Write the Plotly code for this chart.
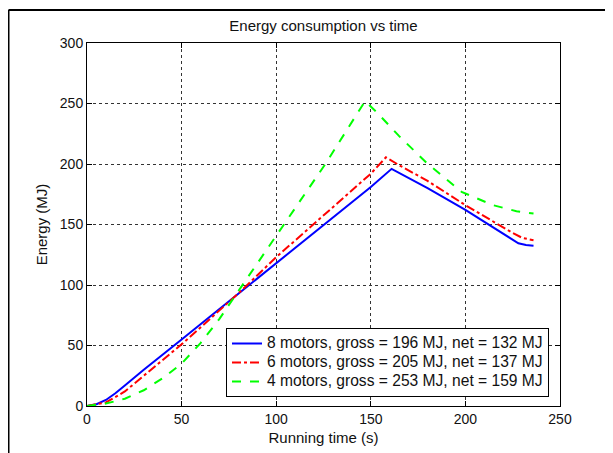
import plotly.graph_objects as go

# Running time (s) and energy (MJ)
t8 = [0, 5, 10, 15, 20, 30, 50, 100, 150, 161, 180, 200, 228, 232, 236]
e8 = [0, 1.5, 5, 10.5, 17, 30, 55, 118, 181, 196, 180, 162, 134.5, 133, 132.5]

t6 = [0, 10, 20, 30, 50, 80, 100, 150, 158, 165, 180, 200, 215, 225, 230, 236]
e6 = [0, 3, 12, 25, 51, 93, 123, 192, 205.5, 199, 186, 166, 152, 143, 139, 137]

t4 = [0, 10, 20, 30, 40, 50, 60, 70, 80, 90, 100, 126, 147, 153, 165, 179.5, 198, 214.5, 227, 236]
e4 = [0, 2, 6, 13, 23, 35, 52, 72, 95, 118, 140, 200, 252, 243, 223, 201, 177, 166, 161, 159]

names = ["8 motors, gross = 196 MJ, net = 132 MJ",
         "6 motors, gross = 205 MJ, net = 137 MJ",
         "4 motors, gross = 253 MJ, net = 159 MJ"]

x_ticks = [0, 50, 100, 150, 200, 250]
y_ticks = [0, 50, 100, 150, 200, 250, 300]

FONT = "Liberation Sans, Arial, sans-serif"


def legend_name(s):
    return '<span style="font-size:15.6px">' + s + '</span>'


fig = go.Figure()
fig.add_trace(go.Scatter(x=t8, y=e8, mode="lines", name=legend_name(names[0]),
                         line=dict(color="#0000FF", width=2, dash="solid")))
fig.add_trace(go.Scatter(x=t6, y=e6, mode="lines", name=legend_name(names[1]),
                         line=dict(color="#FF0000", width=2, dash="dashdot")))
fig.add_trace(go.Scatter(x=t4, y=e4, mode="lines", name=legend_name(names[2]),
                         line=dict(color="#00FF00", width=2, dash="dash")))

axis_common = dict(
    showline=True, linecolor="black", linewidth=1, mirror="ticks",
    ticks="inside", ticklen=5, tickcolor="black", tickwidth=1,
    showgrid=True, gridcolor="#333333", gridwidth=1, griddash="3px,3px",
    zeroline=False, tickfont=dict(size=14, color="#111111", family=FONT),
)

fig.update_xaxes(range=[0, 250], tickvals=x_ticks,
                 title=dict(text="Running time (s)", standoff=6,
                            font=dict(size=15, color="#111111", family=FONT)),
                 **axis_common)
fig.update_yaxes(range=[0, 300], tickvals=y_ticks,
                 title=dict(text="Energy (MJ)", standoff=8,
                            font=dict(size=15, color="#111111", family=FONT)),
                 **axis_common)

W, H = 613, 453
L, R, T, B = 79, 61, 35, 55
pw, ph = W - L - R, H - T - B
fx = (0.5 - L) / pw
fy = 1 + (T - 2) / ph

fig.update_layout(
    width=W, height=H,
    margin=dict(l=L, r=R, t=T, b=B),
    paper_bgcolor="white", plot_bgcolor="white",
    font=dict(family=FONT, color="#111111"),
    title=dict(text="Energy consumption vs time", x=0.5, xref="paper",
               y=1 - 17.5 / H, yref="container", yanchor="middle",
               font=dict(size=15, color="#111111", family=FONT)),
    legend=dict(x=(541 - L) / pw, xanchor="right", y=9 / ph, yanchor="bottom",
                bgcolor="white", bordercolor="black", borderwidth=1,
                font=dict(size=12.3, color="#111111", family=FONT),
                tracegroupgap=0),
    shapes=[
        dict(type="line", xref="paper", yref="paper", x0=fx, x1=fx, y0=-0.3, y1=fy,
             line=dict(color="black", width=2)),
        dict(type="line", xref="paper", yref="paper", x0=fx, x1=1.3, y0=fy, y1=fy,
             line=dict(color="black", width=2)),
    ],
)

fig.write_html("out.html")
